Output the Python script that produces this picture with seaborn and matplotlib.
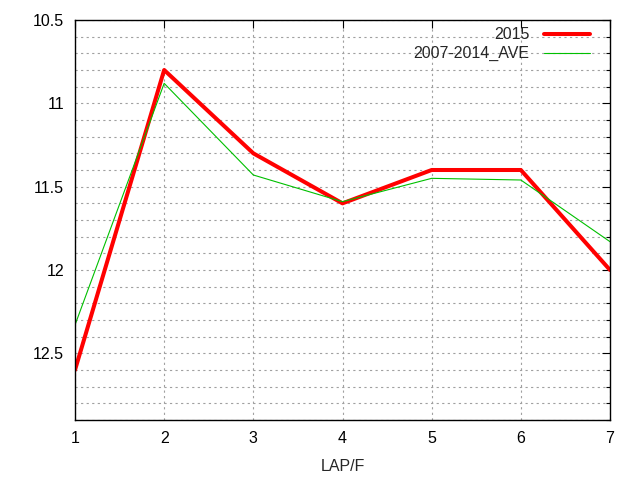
import numpy as np
import pandas as pd
import matplotlib
matplotlib.use("Agg")
import matplotlib.pyplot as plt
from matplotlib.lines import Line2D
import seaborn as sns

laps = [1, 2, 3, 4, 5, 6, 7]
times_2015 = [12.6, 10.8, 11.3, 11.6, 11.4, 11.4, 12.0]
times_ave = [12.33, 10.88, 11.43, 11.59, 11.45, 11.46, 11.83]
series_names = ["2015", "2007-2014_AVE"]


def build_frame() -> pd.DataFrame:
    """Long-format table for seaborn."""
    df = pd.DataFrame({
        "lap": laps * 2,
        "time": times_2015 + times_ave,
        "series": [series_names[0]] * len(laps) + [series_names[1]] * len(laps),
    })
    return df


def main() -> None:
    sns.set_style("white")
    plt.rcParams["font.family"] = ["Liberation Sans", "DejaVu Sans"]
    plt.rcParams["font.size"] = 11.5

    df = build_frame()

    fig = plt.figure(figsize=(6.4, 4.8), dpi=100)
    ax = fig.add_axes([75 / 640, 60 / 480, 535 / 640, 400 / 480])

    sns.lineplot(data=df, x="lap", y="time", hue="series", size="series",
                 sizes={series_names[0]: 2.9, series_names[1]: 0.8},
                 palette={series_names[0]: "#ff0000", series_names[1]: "#00c000"},
                 ax=ax, legend=False)

    ax.set_xlim(1, 7)
    ax.set_ylim(12.9, 10.5)
    ax.set_xticks(laps)
    ax.set_yticks(np.arange(10.5, 12.91, 0.5))
    ax.set_yticklabels(["10.5", "11", "11.5", "12", "12.5"])
    ax.set_yticks(np.arange(10.5, 12.91, 0.1), minor=True)

    # dotted grey grid like gnuplot
    ax.grid(True, which="both", axis="y", color="#a0a0a0", linestyle=(0, (2, 3)), linewidth=0.8)
    ax.grid(True, which="major", axis="x", color="#a0a0a0", linestyle=(0, (2, 3)), linewidth=0.8)

    ax.tick_params(which="both", direction="in", top=True, right=True, colors="black",
                   labelcolor="black", width=0.8)
    ax.tick_params(which="major", length=6, pad=8)
    ax.tick_params(which="minor", length=3)
    for s in ax.spines.values():
        s.set_color("black")
        s.set_linewidth(1.0)

    ax.set_xlabel("LAP/F", labelpad=9)
    ax.set_ylabel("")

    # legend: text first, line sample after it
    handles = [Line2D([], [], color="#ff0000", linewidth=2.9),
               Line2D([], [], color="#00c000", linewidth=0.8)]
    leg = ax.legend(handles, series_names, loc="upper right", frameon=False,
                    markerfirst=False, handlelength=2.9, handletextpad=0.9,
                    labelspacing=0.25, borderaxespad=0.3, bbox_to_anchor=(0.984, 1.01))
    for t in leg.get_texts():
        t.set_ha("right")

    fig.savefig("out.png", dpi=100)
    plt.close(fig)


if __name__ == "__main__":
    main()
